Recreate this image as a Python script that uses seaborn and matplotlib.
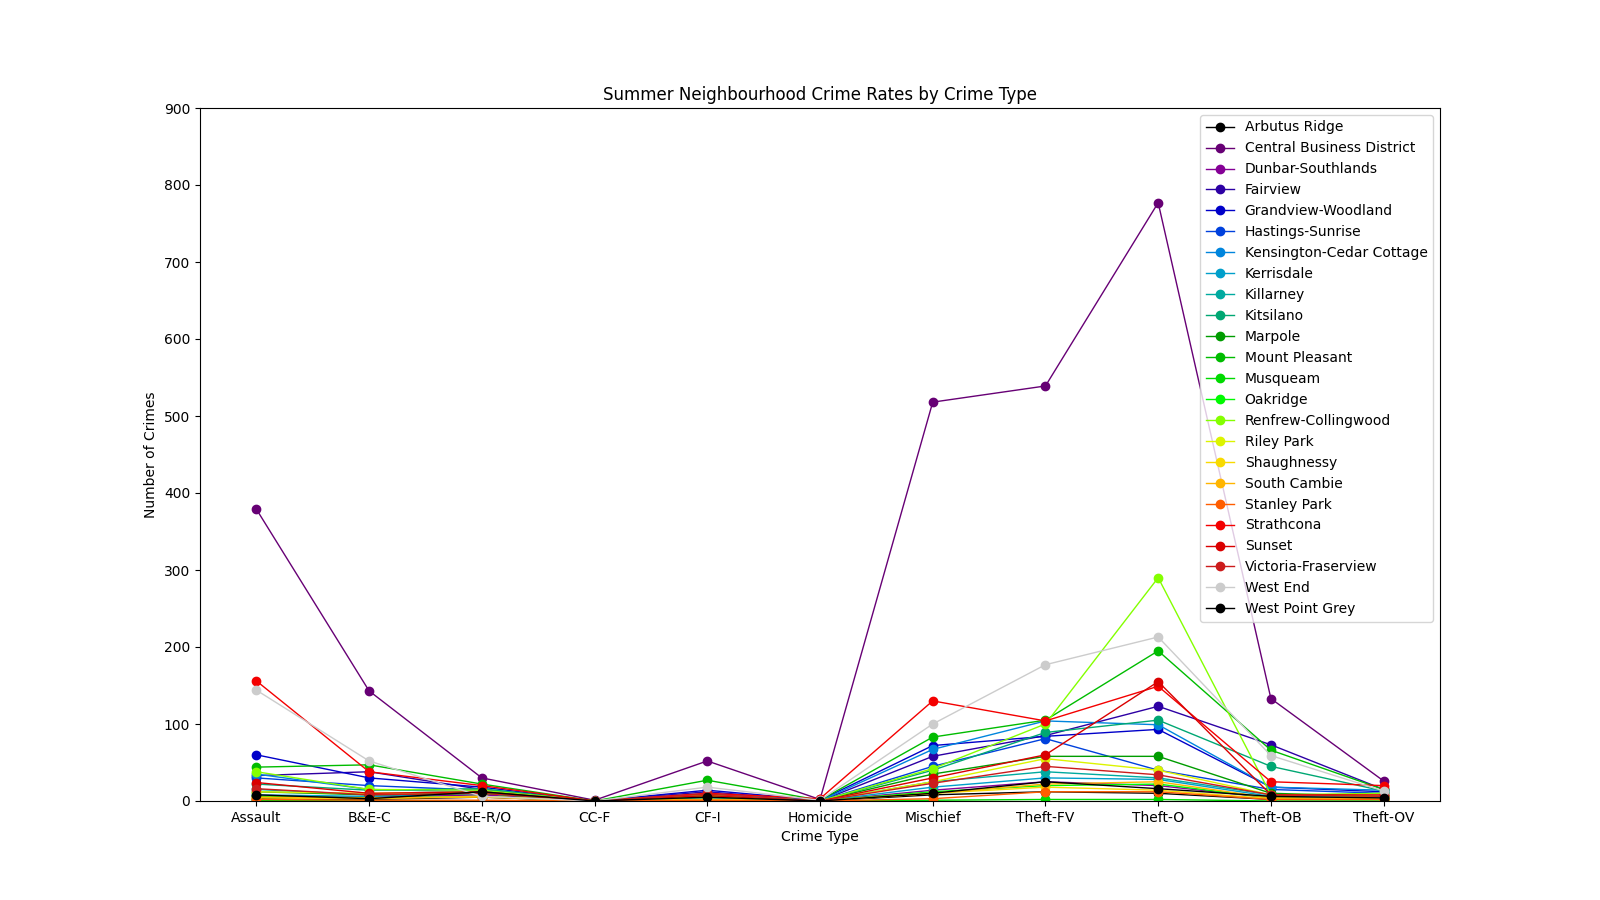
import numpy as np
import pandas as pd
import seaborn as sns
import matplotlib
matplotlib.use("Agg")
from matplotlib import pyplot as plt

crime_types = ['Assault', 'B&E-C', 'B&E-R/O', 'CC-F', 'CF-I', 'Homicide',
               'Mischief', 'Theft-FV', 'Theft-O', 'Theft-OB', 'Theft-OV']

neighbourhoods = ['Arbutus Ridge', 'Central Business District', 'Dunbar-Southlands',
                  'Fairview', 'Grandview-Woodland', 'Hastings-Sunrise',
                  'Kensington-Cedar Cottage', 'Kerrisdale', 'Killarney', 'Kitsilano',
                  'Marpole', 'Mount Pleasant', 'Musqueam', 'Oakridge',
                  'Renfrew-Collingwood', 'Riley Park', 'Shaughnessy', 'South Cambie',
                  'Stanley Park', 'Strathcona', 'Sunset', 'Victoria-Fraserview',
                  'West End', 'West Point Grey']

# counts per crime type, same order as crime_types
arbutus_ridge = [3, 2, 5, 0, 1, 0, 8, 12, 10, 2, 2]
central_business = [379, 143, 30, 1, 52, 2, 518, 539, 777, 133, 26]
dunbar = [6, 5, 8, 0, 2, 0, 14, 25, 20, 4, 3]
fairview = [33, 38, 15, 0, 12, 0, 58, 85, 123, 73, 15]
grandview = [60, 30, 18, 0, 14, 1, 72, 84, 93, 18, 12]
hastings = [30, 20, 14, 0, 8, 0, 45, 81, 40, 15, 10]
kensington = [35, 15, 12, 0, 10, 0, 67, 104, 99, 18, 14]
kerrisdale = [8, 6, 10, 0, 3, 0, 18, 30, 28, 6, 4]
killarney = [15, 8, 10, 0, 6, 0, 25, 38, 30, 8, 6]
kitsilano = [22, 14, 16, 0, 8, 0, 40, 89, 105, 45, 13]
marpole = [12, 8, 10, 0, 5, 0, 35, 58, 58, 10, 6]
mount_pleasant = [44, 47, 22, 0, 27, 1, 83, 105, 195, 66, 15]
musqueam = [1, 0, 0, 0, 0, 0, 1, 2, 2, 0, 0]
oakridge = [6, 4, 6, 0, 2, 0, 12, 20, 22, 4, 3]
renfrew = [38, 15, 14, 0, 8, 0, 42, 100, 290, 8, 10]
riley_park = [12, 10, 12, 0, 6, 0, 25, 55, 40, 8, 6]
shaughnessy = [4, 3, 6, 0, 2, 0, 10, 18, 14, 3, 2]
south_cambie = [5, 4, 5, 0, 2, 0, 10, 22, 25, 4, 3]
stanley_park = [2, 1, 1, 0, 1, 0, 3, 12, 12, 2, 2]
strathcona = [156, 38, 20, 0, 10, 3, 130, 104, 149, 25, 20]
sunset = [24, 10, 12, 0, 7, 0, 30, 60, 155, 8, 8]
victoria_fraserview = [16, 8, 10, 0, 9, 0, 23, 45, 34, 8, 6]
west_end = [144, 52, 6, 0, 18, 1, 100, 177, 213, 59, 13]
west_point_grey = [8, 3, 12, 0, 5, 0, 10, 25, 16, 6, 4]

series = [arbutus_ridge, central_business, dunbar, fairview, grandview, hastings,
          kensington, kerrisdale, killarney, kitsilano, marpole, mount_pleasant,
          musqueam, oakridge, renfrew, riley_park, shaughnessy, south_cambie,
          stanley_park, strathcona, sunset, victoria_fraserview, west_end,
          west_point_grey]

rows = []
for name, vals in zip(neighbourhoods, series):
    for ct, v in zip(crime_types, vals):
        rows.append({'Neighbourhood': name, 'Crime Type': ct, 'Count': v})
df = pd.DataFrame(rows)

# 23-step spectral cycle, last neighbourhood wraps back to black
base = [plt.cm.nipy_spectral(x) for x in np.linspace(0, 1, 23)]
palette = [base[i % 23] for i in range(len(neighbourhoods))]

fig, ax = plt.subplots(figsize=(16, 9), dpi=100)
sns.lineplot(data=df, x='Crime Type', y='Count', hue='Neighbourhood',
             palette=palette, marker='o', markersize=6, linewidth=1,
             markeredgecolor=None, markeredgewidth=1, legend=False, ax=ax)

ax.set_ylim(0, 900)
ax.set_yticks(range(0, 901, 100))
ax.set_title('Summer Neighbourhood Crime Rates by Crime Type')
ax.set_xlabel('Crime Type')
ax.set_ylabel('Number of Crimes')
ax.legend(ax.lines, neighbourhoods, loc='upper right')

fig.savefig('out.png')
